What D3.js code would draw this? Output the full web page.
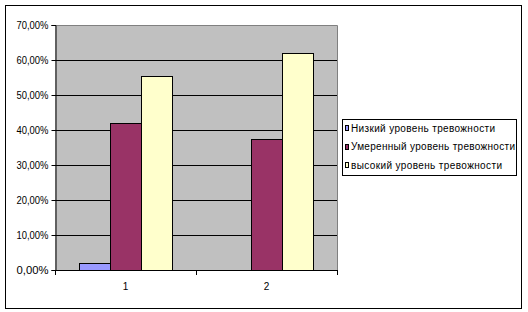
<!DOCTYPE html>
<html><head><meta charset="utf-8">
<script src="https://cdn.jsdelivr.net/npm/d3@7"></script>
<style>body{margin:0;background:#fff;} svg{display:block;}</style>
</head><body>
<script>
const categories = ["1", "2"];
const seriesNames = ["Низкий уровень тревожности", "Умеренный уровень тревожности", "высокий уровень тревожности"];
const lowValues = [0.019, 0];
const moderateValues = [0.421, 0.374];
const highValues = [0.553, 0.620];
const yTicks = [0, 0.1, 0.2, 0.3, 0.4, 0.5, 0.6, 0.7];
const colors = ["#9999FF", "#993366", "#FFFFCC"];

const series = [lowValues, moderateValues, highValues];
const W = 528, H = 312;
const svg = d3.select("body").append("svg").attr("width", W).attr("height", H);
const font = "'Liberation Sans', Arial, sans-serif";

svg.append("rect").attr("x", 5.5).attr("y", 5.5).attr("width", 516).attr("height", 303)
  .attr("fill", "#fff").attr("stroke", "#000").attr("stroke-width", 1);

const L = 55, R = 337, T = 25, B = 270;
const x0 = d3.scaleBand().domain(categories).range([L, R]).paddingInner(0).paddingOuter(0);
const x1 = d3.scaleBand().domain(d3.range(3)).range([0, x0.bandwidth()]).paddingInner(0).paddingOuter(0.75);
const y = d3.scaleLinear().domain([0, 0.7]).range([B, T]);

svg.append("rect").attr("x", L).attr("y", T).attr("width", R - L).attr("height", B - T).attr("fill", "#C0C0C0");
svg.append("path").attr("d", `M${L},${T + 0.5}H${R + 0.5}V${B}`).attr("fill", "none").attr("stroke", "#808080");

svg.append("g").selectAll("line").data(yTicks.slice(1, -1)).join("line")
  .attr("x1", L).attr("x2", R).attr("y1", d => Math.round(y(d)) + 0.5).attr("y2", d => Math.round(y(d)) + 0.5)
  .attr("stroke", "#000");

const fmt = d => (d * 100).toFixed(2).replace(".", ",") + "%";
const yAxis = svg.append("g").attr("transform", `translate(${L + 0.5},0)`)
  .call(d3.axisLeft(y).tickValues(yTicks).tickFormat(fmt).tickSize(4).tickPadding(3));
yAxis.select(".domain").attr("stroke", "#000");
yAxis.selectAll(".tick line").attr("stroke", "#000");
yAxis.selectAll("text").attr("font-family", font).attr("font-size", 10).attr("fill", "#000")
  .attr("textLength", 32).attr("lengthAdjust", "spacingAndGlyphs");

const xAxis = svg.append("g").attr("transform", `translate(0,${B + 0.5})`)
  .call(d3.axisBottom(x0).tickSize(0).tickPadding(12));
xAxis.select(".domain").remove();
xAxis.selectAll("text").attr("font-family", font).attr("font-size", 10).attr("fill", "#000");
svg.append("line").attr("x1", L).attr("x2", R + 1).attr("y1", B + 0.5).attr("y2", B + 0.5).attr("stroke", "#000");
svg.append("g").selectAll("line").data([L, L + x0.bandwidth(), R]).join("line")
  .attr("x1", d => Math.round(d) + 0.5).attr("x2", d => Math.round(d) + 0.5)
  .attr("y1", B).attr("y2", B + 5).attr("stroke", "#000");

const g = svg.append("g");
categories.forEach((c, ci) => {
  series.forEach((s, si) => {
    if (s[ci] <= 0) return;
    g.append("rect")
      .attr("x", Math.round(x0(c) + x1(si)) + 0.5)
      .attr("y", Math.round(y(s[ci])) + 0.5)
      .attr("width", Math.round(x1.bandwidth()))
      .attr("height", Math.round(y(0)) - Math.round(y(s[ci])))
      .attr("fill", colors[si]).attr("stroke", "#000").attr("stroke-width", 1);
  });
});

const legWidths = [144, 164, 151];
const leg = svg.append("g");
leg.append("rect").attr("x", 342.5).attr("y", 119.5).attr("width", 174).attr("height", 56)
  .attr("fill", "#fff").attr("stroke", "#000");
seriesNames.forEach((n, i) => {
  const cy = 128 + i * 18.7;
  leg.append("rect").attr("x", 345.5).attr("y", Math.round(cy - 3) + 0.5).attr("width", 3).attr("height", 5)
    .attr("fill", colors[i]).attr("stroke", "#000").attr("stroke-width", 1);
  leg.append("text").attr("x", 351).attr("y", cy + 3.5).text(n)
    .attr("font-family", font).attr("font-size", 10).attr("fill", "#000")
    .attr("textLength", legWidths[i]).attr("lengthAdjust", "spacing");
});
</script>
</body></html>
